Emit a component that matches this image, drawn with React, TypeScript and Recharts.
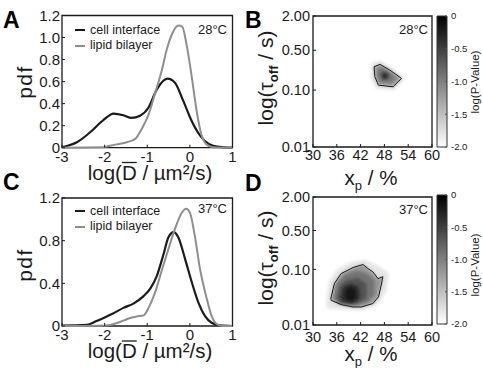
import React, { useLayoutEffect, useRef, useState } from 'react';
import {
  Bar,
  BarChart,
  Legend,
  Line,
  LineChart,
  ReferenceArea,
  Scatter,
  ScatterChart,
  XAxis,
  YAxis,
} from 'recharts';

const FONT = '"Liberation Sans", Arial, Helvetica, sans-serif';
const INK = '#1b1b1b';
const GREY = '#8e8e8e';

// pdf of log(D), 28°C
const cellX28 = [-3, -2.85, -2.65, -2.34, -2.03, -1.79, -1.56, -1.37, -1.17, -0.97, -0.775, -0.525, -0.35, -0.15, 0.045, 0.24, 0.44, 0.64, 1];
const cellY28 = [0.005, 0.02, 0.05, 0.14, 0.25, 0.31, 0.295, 0.27, 0.29, 0.365, 0.53, 0.627, 0.59, 0.42, 0.24, 0.11, 0.035, 0.01, 0];
const lipidX28 = [-3, -2.03, -1.95, -1.72, -1.48, -1.28, -1.13, -0.97, -0.82, -0.66, -0.55, -0.42, -0.27, -0.18, -0.07, 0.045, 0.16, 0.27, 0.39, 0.54, 1];
const lipidY28 = [0, 0.003, 0.01, 0.03, 0.05, 0.08, 0.17, 0.3, 0.49, 0.7, 0.88, 1.03, 1.11, 1.1, 0.92, 0.64, 0.33, 0.12, 0.03, 0.005, 0];

// pdf of log(D), 37°C
const cellX37 = [-3, -2.42, -2.19, -1.95, -1.79, -1.56, -1.325, -1.086, -0.93, -0.775, -0.62, -0.505, -0.38, -0.27, -0.11, 0.045, 0.2, 0.36, 0.51, 0.71, 1];
const cellY37 = [0.003, 0.01, 0.047, 0.09, 0.12, 0.17, 0.21, 0.28, 0.35, 0.47, 0.67, 0.83, 0.88, 0.83, 0.625, 0.41, 0.22, 0.09, 0.03, 0.005, 0];
const lipidX37 = [-3, -2.1, -1.875, -1.56, -1.4, -1.25, -1.086, -0.97, -0.82, -0.66, -0.505, -0.35, -0.194, -0.09, 0.003, 0.118, 0.24, 0.4, 0.51, 0.64, 0.77, 1];
const lipidY37 = [0, 0.002, 0.01, 0.05, 0.075, 0.09, 0.1, 0.17, 0.31, 0.52, 0.72, 0.91, 1.06, 1.1, 1.06, 0.84, 0.53, 0.25, 0.095, 0.015, 0, 0];

const dTicks = [-3, -2, -1, 0, 1];
const pdfTicks = [0, 0.2, 0.4, 0.6, 0.8, 1.0, 1.2];
const xpTicks = [30, 36, 42, 48, 54, 60];
const tauTicks = [0.01, 0.1, 0.5, 1, 2];
const pTicks = [0, -0.5, -1, -1.5, -2];
const pRange = [-2, 0];

// log(P) maps: outlines [x_p %, tau_off s], outermost level first
const halo28 = [[44.8, 0.3], [47, 0.33], [50, 0.25], [53.2, 0.16], [50.5, 0.1], [46, 0.105], [44.6, 0.16]];
const contour28 = [[45.4, 0.257], [46.9, 0.282], [49.4, 0.224], [52.3, 0.16], [50.2, 0.114], [46.5, 0.122], [45.6, 0.171]];
const mid28 = [[46.3, 0.235], [47.3, 0.255], [49.4, 0.205], [51, 0.16], [49.6, 0.132], [46.9, 0.138], [46.2, 0.175]];
const inner28 = [[47, 0.205], [48.3, 0.215], [49.4, 0.18], [48.6, 0.15], [47.2, 0.155]];
const core28 = [[47.6, 0.188], [48.4, 0.192], [48.7, 0.172], [47.9, 0.162]];

const halo37 = [[33.3, 0.025], [34, 0.06], [36, 0.1], [40, 0.14], [43, 0.15], [46, 0.12], [49.2, 0.085], [48.5, 0.04], [46, 0.022], [42, 0.018], [37, 0.019], [33.5, 0.02]];
const contour37 = [[34.5, 0.03], [35.4, 0.056], [37.1, 0.084], [40.1, 0.108], [42.6, 0.122], [43.9, 0.103], [45.1, 0.09], [46.4, 0.068], [47.6, 0.074], [47.2, 0.052], [46.5, 0.032], [45.1, 0.0243], [42.2, 0.0211], [40.1, 0.0211], [37.1, 0.0233], [34.6, 0.0278]];
const lvl1_37 = [[35.3, 0.03], [36, 0.055], [38, 0.08], [41, 0.095], [43.5, 0.085], [45.5, 0.065], [45.5, 0.035], [43.5, 0.025], [40, 0.0225], [36.5, 0.024]];
const lvl2_37 = [[36, 0.03], [36.8, 0.05], [38.5, 0.065], [41.5, 0.07], [43.5, 0.055], [43.5, 0.03], [41, 0.024], [37, 0.025]];
const lvl3_37 = [[36.8, 0.03], [37.5, 0.048], [39.5, 0.055], [41.5, 0.05], [42, 0.03], [40, 0.0245], [37.5, 0.026]];
const core37 = [[38, 0.029], [38.2, 0.045], [39.5, 0.05], [40.8, 0.045], [40.9, 0.029], [39.5, 0.026]];

const shades28 = ['#e6e6e6', '#999999', '#777777', '#4d4d4d', '#1c1c1c'];
const shades37 = ['#e6e6e6', '#979797', '#737373', '#535353', '#333333', '#151515'];

const toPts = (xs: number[], ys: number[]) => xs.map((x, i) => ({ x, y: ys[i] }));
const pairPts = (p: number[][]) => p.map(([x, y]) => ({ x, y }));

const tickStyle = (size: number) => ({ fontSize: size, fill: INK, fontFamily: FONT });
const noDot = () => <g />;

// "log(D / µm²/s)" with a bar measured over the D glyph
function DTitle({ px, py }: any) {
  const ref = useRef<SVGTextElement>(null);
  const [bar, setBar] = useState<{ x: number; w: number } | null>(null);
  useLayoutEffect(() => {
    const el = ref.current;
    if (!el) return;
    try {
      const r = el.getExtentOfChar(4);
      setBar({ x: r.x, w: r.width });
    } catch (e) {
      // no layout available
    }
  }, [px, py]);
  return (
    <g>
      <text ref={ref} x={px} y={py} textAnchor="middle" fontSize={20.5} fill={INK} fontFamily={FONT}>
        log(D / µm²/s)
      </text>
      {bar && (
        <line x1={bar.x} x2={bar.x + bar.w} y1={py - 17} y2={py - 17} stroke={INK} strokeWidth={1.3} />
      )}
    </g>
  );
}

function PdfTitle({ px, py }: any) {
  return (
    <text transform={`translate(${px},${py}) rotate(-90)`} textAnchor="middle" fontSize={21} fill={INK} fontFamily={FONT} letterSpacing={1.5}>
      pdf
    </text>
  );
}

function TauTitle({ px, py }: any) {
  return (
    <text transform={`translate(${px},${py}) rotate(-90)`} textAnchor="middle" fontSize={21} fill={INK} fontFamily={FONT}>
      log(τ<tspan fontSize={13} fontWeight="bold" dy={5}>off</tspan>
      <tspan dy={-5}> / s)</tspan>
    </text>
  );
}

function XpTitle({ px, py }: any) {
  return (
    <text x={px} y={py} textAnchor="middle" fontSize={20.5} fill={INK} fontFamily={FONT}>
      x<tspan fontSize={13} dy={5}>p</tspan>
      <tspan dy={-5}> / %</tspan>
    </text>
  );
}

function PTitle({ px, py }: any) {
  return (
    <text transform={`translate(${px},${py}) rotate(-90)`} textAnchor="middle" fontSize={11.5} fill={INK} fontFamily={FONT}>
      log(P-Value)
    </text>
  );
}

function TempLabel({ px, py, txt }: any) {
  return (
    <text x={px} y={py} textAnchor="end" fontSize={13} fill={INK} fontFamily={FONT}>
      {txt}
    </text>
  );
}

const renderLegend = (props: any) => (
  <div style={{ fontFamily: FONT, fontSize: 12.5, color: INK, lineHeight: '15.5px' }}>
    {(props.payload || []).map((e: any) => (
      <div key={e.value} style={{ display: 'flex', alignItems: 'center', whiteSpace: 'nowrap' }}>
        <span style={{ display: 'inline-block', width: 10, height: 2, background: e.color, marginRight: 5 }} />
        {e.value}
      </div>
    ))}
  </div>
);

function PdfPanel({ top, height, plotTop, plotBottom, cell, lipid, temp, tickGap, titleY, pdfY, legendTop, tempY }: any) {
  return (
    <div style={{ position: 'absolute', left: 0, top }}>
      <LineChart width={240} height={height} margin={{ top: plotTop, right: 7.5, bottom: 0, left: 0 }}>
        <XAxis
          type="number"
          dataKey="x"
          domain={[-3, 1]}
          ticks={dTicks}
          allowDataOverflow
          height={height - plotBottom}
          axisLine={false}
          tickSize={-3}
          tickMargin={tickGap}
          tickLine={{ stroke: INK }}
          tick={tickStyle(15)}
          label={<DTitle px={150} py={titleY} />}
        />
        <YAxis
          type="number"
          domain={[0, 1.2]}
          ticks={pdfTicks}
          tickFormatter={(v: number) => (v === 0 ? '0' : v.toFixed(1))}
          width={62}
          axisLine={false}
          tickSize={-3}
          tickMargin={5}
          tickLine={{ stroke: INK }}
          tick={tickStyle(15)}
          label={<PdfTitle px={32} py={pdfY} />}
        />
        <Line data={cell} dataKey="y" name="cell interface" type="monotone" stroke={INK} strokeWidth={2.2} dot={false} isAnimationActive={false} />
        <Line data={lipid} dataKey="y" name="lipid bilayer" type="monotone" stroke={GREY} strokeWidth={2} dot={false} isAnimationActive={false} />
        <ReferenceArea
          x1={-3}
          x2={1}
          y1={0}
          y2={1.2}
          fill="none"
          stroke={INK}
          strokeWidth={1.3}
          label={<TempLabel px={227} py={tempY} txt={temp} />}
        />
        <Legend
          layout="horizontal"
          verticalAlign="middle"
          align="center"
          content={renderLegend}
          wrapperStyle={{ position: 'absolute', left: 75, top: legendTop, width: 'auto', height: 'auto' }}
        />
      </LineChart>
    </div>
  );
}

function HeatPanel({ id, top, height, plotTop, plotBottom, levels, shades, outline, temp, tickGap, titleY, tauY, tempY }: any) {
  return (
    <div style={{ position: 'absolute', left: 240, top }}>
      <ScatterChart width={200} height={height} margin={{ top: plotTop, right: 8, bottom: 0, left: 0 }}>
        <defs>
          <filter id={`soft${id}`} x="-50%" y="-50%" width="200%" height="200%">
            <feGaussianBlur stdDeviation="1.4" />
          </filter>
        </defs>
        <XAxis
          type="number"
          dataKey="x"
          domain={[30, 60]}
          ticks={xpTicks}
          allowDataOverflow
          height={height - plotBottom}
          axisLine={false}
          tickSize={-3}
          tickMargin={tickGap}
          tickLine={{ stroke: INK }}
          tick={tickStyle(14.5)}
          label={<XpTitle px={131} py={titleY} />}
        />
        <YAxis
          type="number"
          dataKey="y"
          scale="log"
          domain={[0.01, 2]}
          ticks={tauTicks}
          allowDataOverflow
          tickFormatter={(v: number) => v.toFixed(2)}
          width={73}
          axisLine={false}
          tickSize={-3}
          tickMargin={6}
          tickLine={{ stroke: INK }}
          tick={tickStyle(14.5)}
          label={<TauTitle px={33} py={tauY} />}
        />
        {levels.map((lv: number[][], i: number) => (
          <Scatter
            key={i}
            data={pairPts(lv)}
            shape={noDot}
            line={{ fill: shades[i], stroke: 'none', filter: `url(#soft${id})` }}
            lineJointType="linearClosed"
            isAnimationActive={false}
          />
        ))}
        <Scatter
          data={pairPts(outline)}
          shape={noDot}
          line={{ fill: 'none', stroke: INK, strokeWidth: 1 }}
          lineJointType="linearClosed"
          isAnimationActive={false}
        />
        <ReferenceArea
          x1={30}
          x2={60}
          y1={0.01}
          y2={2}
          fill="none"
          stroke={INK}
          strokeWidth={1.3}
          label={<TempLabel px={188} py={tempY} txt={temp} />}
        />
      </ScatterChart>
    </div>
  );
}

function ColorBar({ id, top, height, plotTop, plotBottom, labelY }: any) {
  const data = [{ k: 'p', range: pRange }];
  return (
    <div style={{ position: 'absolute', left: 427, top }}>
      <BarChart width={56} height={height} data={data} barCategoryGap={0} margin={{ top: plotTop, right: 0, bottom: height - plotBottom, left: 0 }}>
        <defs>
          <linearGradient id={`cb${id}`} x1="0" y1="0" x2="0" y2="1">
            <stop offset="0" stopColor="#000000" />
            <stop offset="1" stopColor="#ffffff" />
          </linearGradient>
        </defs>
        <XAxis dataKey="k" hide />
        <YAxis yAxisId="l" type="number" domain={pRange} ticks={pTicks} width={10} axisLine={false} tickSize={-2} tickFormatter={() => ''} tickLine={{ stroke: '#555' }} />
        <YAxis
          yAxisId="r"
          orientation="right"
          type="number"
          domain={pRange}
          ticks={pTicks}
          width={36}
          axisLine={false}
          tickSize={-2}
          tickMargin={6}
          tickLine={{ stroke: '#555' }}
          tickFormatter={(v: number) => (v === 0 ? '0' : v.toFixed(1))}
          tick={tickStyle(9.5)}
          label={<PTitle px={51.5} py={labelY} />}
        />
        <Bar yAxisId="r" dataKey="range" fill={`url(#cb${id})`} stroke="#333" strokeWidth={1} isAnimationActive={false} />
      </BarChart>
    </div>
  );
}

export default function App() {
  return (
    <div style={{ position: 'absolute', left: 0, top: 0, width: 483, height: 368, background: '#fff', fontFamily: FONT }}>
      <PdfPanel
        top={0}
        height={192}
        plotTop={15.5}
        plotBottom={147.7}
        cell={toPts(cellX28, cellY28)}
        lipid={toPts(lipidX28, lipidY28)}
        temp="28°C"
        tickGap={6.5}
        titleY={179.5}
        pdfY={82}
        legendTop={22.5}
        tempY={34}
      />
      <PdfPanel
        top={184}
        height={184}
        plotTop={14}
        plotBottom={142}
        cell={toPts(cellX37, cellY37)}
        lipid={toPts(lipidX37, lipidY37)}
        temp="37°C"
        tickGap={6.5}
        titleY={174}
        pdfY={81}
        legendTop={19.5}
        tempY={28.5}
      />
      <HeatPanel
        id="b"
        top={0}
        height={197}
        plotTop={16}
        plotBottom={147}
        levels={[halo28, contour28, mid28, inner28, core28]}
        shades={shades28}
        outline={contour28}
        temp="28°C"
        tickGap={6}
        titleY={185}
        tauY={78}
        tempY={33.5}
      />
      <HeatPanel
        id="d"
        top={184}
        height={184}
        plotTop={13}
        plotBottom={141}
        levels={[halo37, contour37, lvl1_37, lvl2_37, lvl3_37, core37]}
        shades={shades37}
        outline={contour37}
        temp="37°C"
        tickGap={10}
        titleY={177}
        tauY={74}
        tempY={29.5}
      />
      <ColorBar id="b" top={0} height={184} plotTop={16} plotBottom={147} labelY={82} />
      <ColorBar id="d" top={184} height={184} plotTop={11} plotBottom={140} labelY={81} />
      <svg width={483} height={368} style={{ position: 'absolute', left: 0, top: 0, pointerEvents: 'none' }}>
        <g fontFamily={FONT} fontWeight="bold" fontSize={23} fill="#000">
          <text x={3} y={28}>A</text>
          <text x={245} y={28}>B</text>
          <text x={3} y={190}>C</text>
          <text x={245} y={191}>D</text>
        </g>
      </svg>
    </div>
  );
}
